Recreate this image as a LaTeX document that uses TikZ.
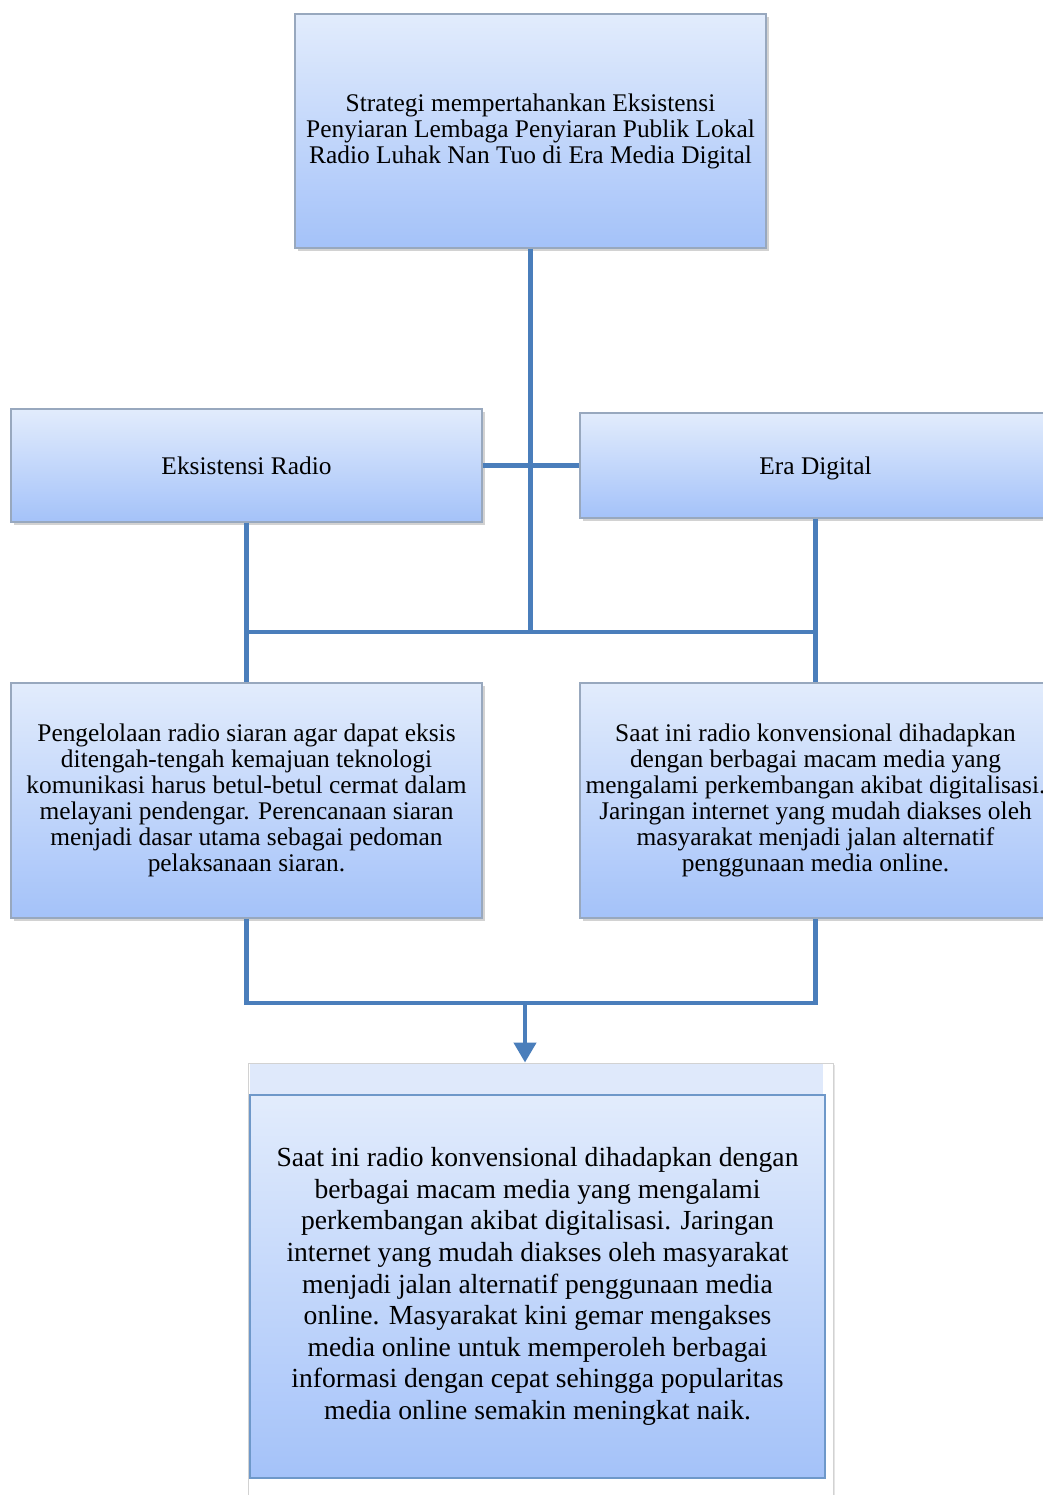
\documentclass[tikz,border=0pt]{standalone}
\usepackage{fontspec}
\setmainfont{Liberation Serif}
\usetikzlibrary{shadows,arrows.meta}
\definecolor{lnblue}{HTML}{4A7EBB}
\definecolor{gtop}{HTML}{E2ECFC}
\definecolor{gbot}{HTML}{A4C2F9}
\definecolor{bordgray}{HTML}{98A8BE}
\definecolor{bandblue}{HTML}{DFE9FB}
\tikzset{
  box/.style={draw=bordgray, line width=1.2pt, top color=gtop, bottom color=gbot,
    minimum width=471pt, align=center, inner sep=4pt,
    drop shadow={opacity=0.35, shadow xshift=3pt, shadow yshift=-3pt, fill=gray},
    font=\fontsize{25.4pt}{26pt}\selectfont},
  oneline/.style={text height=17.5pt, text depth=0.3pt},
  bigbox/.style={draw=lnblue!80, line width=1.6pt, top color=gtop, bottom color=gbot,
    minimum width=575pt, minimum height=383pt, align=center, inner sep=4pt,
    font=\fontsize{27.6pt}{31.6pt}\selectfont},
  conn/.style={draw=lnblue, line width=4.5pt},
}
\begin{document}
\begin{tikzpicture}[x=1pt,y=-1pt]
\useasboundingbox (0,0) rectangle (1043,1495);
\clip (0,0) rectangle (1043,1495);
\fill[white] (0,0) rectangle (1043,1495);

\node[box, minimum height=234pt] (top) at (530.5,131)
  {Strategi mempertahankan Eksistensi\\Penyiaran Lembaga Penyiaran Publik Lokal\\Radio Luhak Nan Tuo di Era Media Digital};
\node[box, oneline, minimum height=113pt] (rad) at (246.5,465.5) {Eksistensi Radio};
\node[box, oneline, minimum height=105pt] (dig) at (815.5,465.5) {Era Digital};
\node[box, minimum height=235pt] (ml) at (246.5,800.5)
  {Pengelolaan radio siaran agar dapat eksis\\ditengah-tengah kemajuan teknologi\\komunikasi harus betul-betul cermat dalam\\melayani pendengar. Perencanaan siaran\\menjadi dasar utama sebagai pedoman\\pelaksanaan siaran.};
\node[box, minimum height=235pt] (mr) at (815.5,800.5)
  {Saat ini radio konvensional dihadapkan\\dengan berbagai macam media yang\\mengalami perkembangan akibat digitalisasi.\\Jaringan internet yang mudah diakses oleh\\masyarakat menjadi jalan alternatif\\penggunaan media online.};

% bottom frame
\node[draw=gray!35, line width=1pt, fill=white, minimum width=585pt, minimum height=440pt,
  drop shadow={opacity=0.2, shadow xshift=2pt, shadow yshift=-2pt, fill=gray}, inner sep=0pt]
  (frame) at (540.5,1283) {};
\node[fill=bandblue, minimum width=573pt, minimum height=30pt, inner sep=0pt] (band) at (536.5,1079) {};
\node[bigbox] (bot) at (537.5,1286.5)
  {Saat ini radio konvensional dihadapkan dengan\\berbagai macam media yang mengalami\\perkembangan akibat digitalisasi. Jaringan\\internet yang mudah diakses oleh masyarakat\\menjadi jalan alternatif penggunaan media\\online. Masyarakat kini gemar mengakses\\media online untuk memperoleh berbagai\\informasi dengan cepat sehingga popularitas\\media online semakin meningkat naik.};

% connectors
\coordinate (jn) at (530.5,632);
\coordinate (jb) at (525,1003);
\draw[conn] (top.south) -- (jn);
\draw[conn] (rad.east) -- (dig.west);
\draw[conn] (rad.south) -- (ml.north);
\draw[conn] (dig.south) -- (mr.north);
\draw[conn] (rad.south |- jn) -- (dig.south |- jn);
\draw[conn] (ml.south) -- (ml.south |- jb) -- (mr.south |- jb) -- (mr.south);
\draw[conn, -{Triangle[width=22pt,length=20pt]}] (jb) -- (jb |- frame.north);
\end{tikzpicture}
\end{document}
